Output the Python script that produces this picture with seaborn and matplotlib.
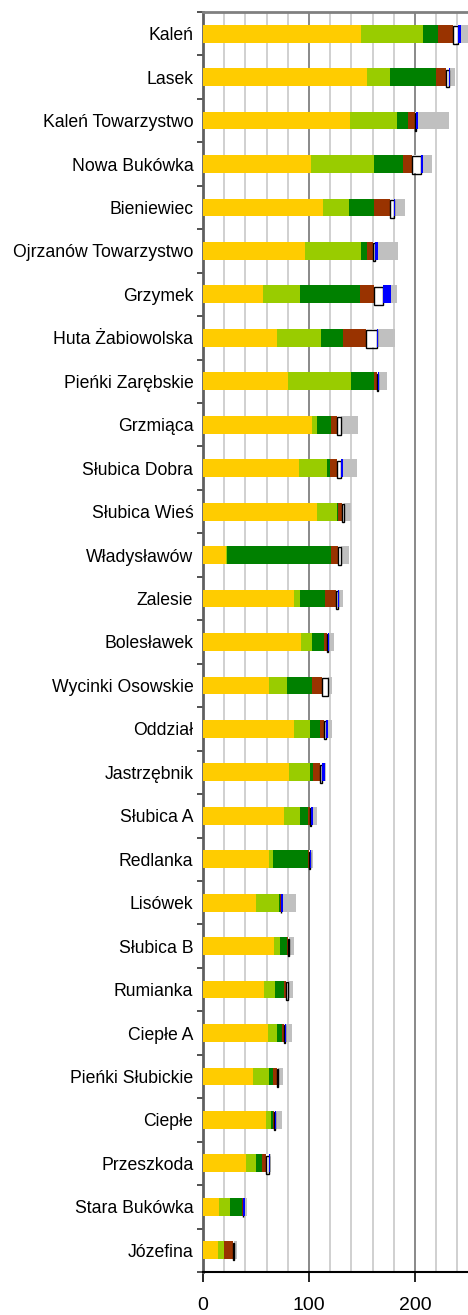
import numpy as np
import pandas as pd
import matplotlib
matplotlib.use("Agg")
import matplotlib.pyplot as plt
import seaborn as sns

names = [
    "Kaleń", "Lasek", "Kaleń Towarzystwo", "Nowa Bukówka", "Bieniewiec",
    "Ojrzanów Towarzystwo", "Grzymek", "Huta Żabiowolska", "Pieńki Zarębskie",
    "Grzmiąca", "Słubica Dobra", "Słubica Wieś", "Władysławów", "Zalesie",
    "Bolesławek", "Wycinki Osowskie", "Oddział", "Jastrzębnik", "Słubica A",
    "Redlanka", "Lisówek", "Słubica B", "Rumianka", "Ciepłe A",
    "Pieńki Słubickie", "Ciepłe", "Przeszkoda", "Stara Bukówka", "Józefina",
]

yellow      = [149, 155, 139, 102, 113, 96, 56.5, 70, 80, 103, 90.5, 107.5, 21.5, 86,
               92.5, 62.5, 86, 81, 76.5, 62.5, 50, 67, 57.5, 61.5, 47, 59.5, 40.5, 15, 14]
light_green = [58.5, 21.5, 44, 59.5, 25, 53, 35, 41.5, 59.5, 4.5, 26.5, 19, 1.5, 5.5,
               10.5, 17, 15, 20, 15, 3.5, 21.5, 5.5, 10.5, 8.5, 15, 4.5, 9.5, 10.5, 5.5]
dark_green  = [14, 43, 10, 27.5, 23, 6, 56.5, 20.5, 21.5, 13.5, 2.5, 0.5, 98, 23.5,
               11, 23.5, 9.5, 3, 7.5, 33, 1, 6.5, 8.5, 4.5, 4, 2, 5.5, 11, 0]
brown       = [14.5, 9.5, 7, 8.5, 15.5, 5.5, 13, 22, 3, 5.5, 7, 4, 6.5, 10.5,
               3, 9.5, 4, 6.5, 2, 1, 1, 1.5, 2, 2, 4, 1, 4, 1, 8.5]
white       = [5, 3, 1, 8, 4, 2, 9, 10, 1.5, 4, 4, 2, 3, 1.5,
               1, 5, 1.5, 1.5, 1, 0.5, 0.5, 1, 1.5, 0.5, 1, 0.5, 3, 0.5, 1]
blue        = [2.5, 1, 2, 2, 1, 3, 7, 1, 1, 0, 2, 0, 0, 1.5,
               1, 0, 2, 3, 1.5, 1.5, 1.5, 0, 0, 1.5, 0, 1.5, 1, 1.5, 0]
gray        = [7, 5, 29, 9, 9, 18, 6, 16, 7.5, 16, 13, 7, 7, 3.5,
               5, 4, 4, 1, 4, 2, 12, 4.5, 5, 5.5, 4, 5.5, 1, 2, 3]

SEGMENTS = ["yellow", "light_green", "dark_green", "brown", "white", "blue", "gray"]
COLORS = {
    "yellow": "#FFCC00", "light_green": "#99CC00", "dark_green": "#008000",
    "brown": "#993300", "white": "#FFFFFF", "blue": "#0000FF", "gray": "#C0C0C0",
}

df = pd.DataFrame({
    "yellow": yellow, "light_green": light_green, "dark_green": dark_green,
    "brown": brown, "white": white, "blue": blue, "gray": gray,
}, index=names)
cum = df.cumsum(axis=1)

sns.set_style("white")
plt.rcParams["font.family"] = ["Liberation Sans", "DejaVu Sans"]

fig = plt.figure(figsize=(4.68, 13.15), dpi=100)
ax = fig.add_axes([0.4338, 0.0327, 0.5662, 0.9582])

# stacked bars: draw cumulative totals from the longest to the shortest
for seg in reversed(SEGMENTS):
    sns.barplot(x=cum[seg].values, y=names, orient="h", color=COLORS[seg],
                saturation=1, width=0.41, errorbar=None, linewidth=0,
                ax=ax, zorder=3)

ypos = np.arange(len(names))
ax.barh(ypos + 0.03, df["white"], left=cum["brown"], height=0.41, fill=False,
        edgecolor="black", linewidth=1, zorder=4)
ax.barh(ypos, df["blue"], left=cum["white"], height=0.41, color=COLORS["blue"],
        linewidth=0, zorder=5)

ax.set_xlim(0, 250)
ax.set_ylim(len(names) - 0.5, -0.5)
ax.set_xlabel("")
ax.set_ylabel("")

ax.set_xticks([0, 100, 200])
ax.set_xticks(np.arange(20, 250, 20), minor=True)
ax.set_yticks(ypos)
ax.set_yticks(np.arange(-0.5, len(names)), minor=True)
ax.set_yticklabels(names)

ax.set_axisbelow(True)
ax.grid(axis="x", which="minor", color="#C8C8C8", linewidth=1.2)
ax.grid(axis="x", which="major", color="#808080", linewidth=1.3)
ax.grid(axis="y", visible=False)

ax.tick_params(axis="x", which="major", length=7, width=1.2, color="black",
               labelsize=14, labelcolor="black", pad=11, bottom=True)
ax.tick_params(axis="x", which="minor", length=0)
ax.tick_params(axis="y", which="major", length=0, labelsize=12.7,
               labelcolor="black", pad=7)
ax.tick_params(axis="y", which="minor", length=4, width=1.2, color="#333333", left=True)

ax.spines["right"].set_visible(False)
ax.spines["top"].set_color("#808080")
ax.spines["top"].set_linewidth(2)
ax.spines["left"].set_color("#606060")
ax.spines["left"].set_linewidth(2)
ax.spines["bottom"].set_color("black")
ax.spines["bottom"].set_linewidth(1.5)

fig.savefig("out.png", dpi=100)
plt.close(fig)
